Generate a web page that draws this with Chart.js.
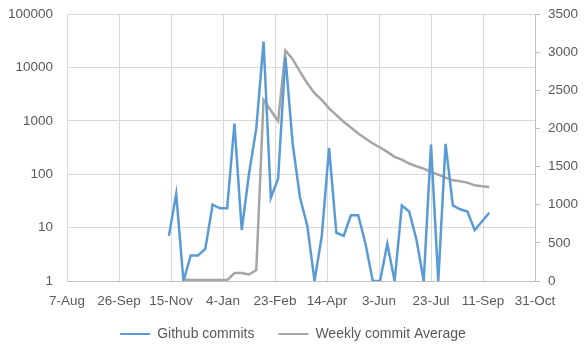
<!DOCTYPE html>
<html>
<head>
<meta charset="utf-8">
<script src="https://cdn.jsdelivr.net/npm/chart.js@4/dist/chart.umd.min.js"></script>
<style>
  html, body { margin: 0; padding: 0; background: #ffffff; }
  canvas { display: block; }
</style>
</head>
<body>
<canvas id="c" width="586" height="355"></canvas>
<script>
// ---- data ----
const weekDates = [
  "2017-11-13","2017-11-20","2017-11-27","2017-12-04","2017-12-11","2017-12-18","2017-12-25",
  "2018-01-01","2018-01-08","2018-01-15","2018-01-22","2018-01-29","2018-02-05","2018-02-12",
  "2018-02-19","2018-02-26","2018-03-05","2018-03-12","2018-03-19","2018-03-26","2018-04-02",
  "2018-04-09","2018-04-16","2018-04-23","2018-04-30","2018-05-07","2018-05-14","2018-05-21",
  "2018-05-28","2018-06-04","2018-06-11","2018-06-18","2018-06-25","2018-07-02","2018-07-09",
  "2018-07-16","2018-07-23","2018-07-30","2018-08-06","2018-08-13","2018-08-20","2018-08-27",
  "2018-09-03","2018-09-10","2018-09-17"
];
const githubCommits = [
  7, 43, 1, 3, 3, 4, 27, 23, 23, 890, 9, 102, 720, 30500, 36, 83, 16000, 375, 37, 11,
  1, 7, 310, 8, 7, 17, 17, 5, 1, 1, 5, 1, 26, 20, 6, 1, 360, 1, 370, 26, 22, 20, 9, 13, 19
];
const weeklyAverage = [
  null, null, 20, 13, 12, 12, 12, 12, 12, 105, 105, 85, 145, 2375, 2235, 2095, 3020,
  2908, 2745, 2592, 2461, 2373, 2263, 2175, 2087, 2013, 1934, 1869, 1803, 1750, 1692,
  1627, 1592, 1540, 1504, 1474, 1429, 1395, 1355, 1320, 1307, 1290, 1254, 1241, 1232
];
const xAxisStart = "2017-08-07";
const xAxisEnd = "2018-10-31";
const xTickStepDays = 50;
const leftTicks = [1, 10, 100, 1000, 10000, 100000];
const rightMax = 3500;
const rightStep = 500;
const seriesNames = ["Github commits", "Weekly commit Average"];

// ---- helpers ----
const DAY = 86400000;
const t0 = Date.parse(xAxisStart + "T00:00:00Z");
const dayOf = s => Math.round((Date.parse(s + "T00:00:00Z") - t0) / DAY);
const MONTHS = ["Jan","Feb","Mar","Apr","May","Jun","Jul","Aug","Sep","Oct","Nov","Dec"];
const fmtDay = d => { const dt = new Date(t0 + d * DAY); return dt.getUTCDate() + "-" + MONTHS[dt.getUTCMonth()]; };

const blueData = weekDates.map((s, i) => ({ x: dayOf(s), y: githubCommits[i] }));
const grayData = weekDates.map((s, i) => ({ x: dayOf(s), y: weeklyAverage[i] }));

const TXT = "#595959";
const GRID = "#d9d9d9";
const AXIS = "#bfbfbf";
const FONT = "'Liberation Sans', Arial, sans-serif";

// nudge the legend up a little (layout only)
const legendNudge = {
  id: "legendNudge",
  afterLayout(chart) {
    if (chart.legend) { chart.legend.top -= 6.5; chart.legend.bottom -= 6.5; }
  }
};

new Chart(document.getElementById("c"), {
  type: "line",
  plugins: [legendNudge],
  data: {
    datasets: [
      { label: seriesNames[0], data: blueData, yAxisID: "yL", borderColor: "#5B9BD5", backgroundColor: "#5B9BD5",
        borderWidth: 2.5, pointRadius: 0, tension: 0, fill: false },
      { label: seriesNames[1], data: grayData, yAxisID: "yR", borderColor: "#A5A5A5", backgroundColor: "#A5A5A5",
        borderWidth: 2.5, pointRadius: 0, tension: 0, fill: false }
    ]
  },
  options: {
    responsive: false,
    devicePixelRatio: 1,
    animation: false,
    layout: { padding: { top: 14, bottom: -2.5, left: 0, right: 0 } },
    plugins: {
      legend: {
        position: "bottom",
        labels: {
          color: TXT, font: { family: FONT, size: 14 },
          boxWidth: 30, boxHeight: 2, padding: 24,
          generateLabels: (chart) => chart.data.datasets.map((ds, i) => ({
            text: ds.label, fillStyle: ds.borderColor, strokeStyle: ds.borderColor,
            lineWidth: 0, hidden: false, datasetIndex: i, fontColor: TXT
          }))
        }
      },
      tooltip: { enabled: false }
    },
    scales: {
      x: {
        type: "linear",
        min: 0, max: dayOf(xAxisEnd),
        afterBuildTicks: (s) => { const t = []; for (let d = 0; d <= dayOf(xAxisEnd); d += xTickStepDays) t.push({ value: d }); s.ticks = t; },
        afterFit: (s) => { s.height = 28.5; },
        ticks: { color: TXT, font: { family: FONT, size: 13.5 }, padding: 12, maxRotation: 0, autoSkip: false,
                 callback: (v) => fmtDay(v) },
        grid: { color: GRID, drawTicks: false },
        border: { color: AXIS }
      },
      yL: {
        type: "logarithmic", position: "left",
        min: 1, max: 100000,
        afterBuildTicks: (s) => { s.ticks = leftTicks.map(v => ({ value: v })); },
        afterFit: (s) => { s.width = 67; s.paddingTop = 0; s.paddingBottom = 0; },
        ticks: { color: TXT, font: { family: FONT, size: 13.5 }, padding: 14, autoSkip: false,
                 callback: (v) => String(v) },
        grid: { color: GRID, drawTicks: false },
        border: { color: GRID }
      },
      yR: {
        type: "linear", position: "right",
        min: 0, max: rightMax,
        afterFit: (s) => { s.width = 51; s.paddingTop = 0; s.paddingBottom = 0; },
        ticks: { color: TXT, font: { family: FONT, size: 13.5 }, padding: 8, stepSize: rightStep, autoSkip: false,
                 callback: (v) => String(v) },
        grid: { drawOnChartArea: false, drawTicks: true, tickLength: 5, color: AXIS },
        border: { color: AXIS }
      }
    }
  }
});
</script>
</body>
</html>
